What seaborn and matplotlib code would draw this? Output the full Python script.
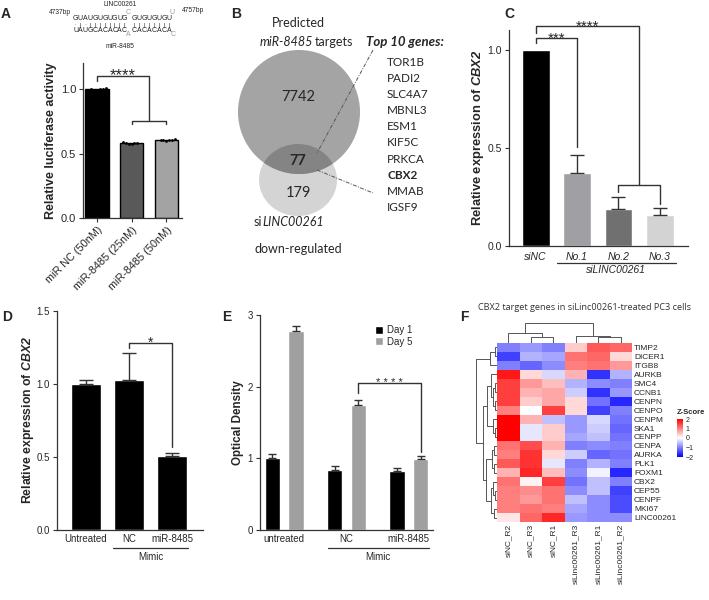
import numpy as np
import pandas as pd
import matplotlib
matplotlib.use('Agg')
import matplotlib.pyplot as plt
import seaborn as sns
from matplotlib.patches import Ellipse

# ---------------- data ----------------
# A: luciferase reporter (6 replicates per group)
luc_groups = ['miR NC (50nM)', 'miR-8485 (25nM)', 'miR-8485 (50nM)']
luc_nc = [0.996, 1.000, 1.003, 0.998, 1.001, 1.006]
luc_25 = [0.586, 0.580, 0.575, 0.578, 0.583, 0.590]
luc_50 = [0.600, 0.604, 0.602, 0.606, 0.603, 0.610]

# B: venn counts + top genes
venn_counts = [7742, 77, 179]
top_genes = ['TOR1B', 'PADI2', 'SLC4A7', 'MBNL3', 'ESM1', 'KIF5C', 'PRKCA', 'CBX2', 'MMAB', 'IGSF9']

# C: CBX2 after siLINC00261
c_groups = ['siNC', 'No.1', 'No.2', 'No.3']
c_mean = [1.0, 0.37, 0.186, 0.16]
c_err = [0.0, 0.093, 0.062, 0.035]

# D: CBX2 after mimic
d_groups = ['Untreated', 'NC', 'miR-8485']
d_mean = [1.0, 1.03, 0.507]
d_err = [0.03, 0.18, 0.02]

# E: optical density
e_groups = ['untreated', 'NC', 'miR-8485']
e_day1 = [1.0, 0.84, 0.83]
e_day5 = [2.78, 1.74, 0.99]
e_day1_err = [0.06, 0.06, 0.04]
e_day5_err = [0.06, 0.08, 0.04]

# F: heatmap z-scores
hm_genes = ['TIMP2', 'DICER1', 'ITGB8', 'AURKB', 'SMC4', 'CCNB1', 'CENPN', 'CENPO', 'CENPM', 'SKA1',
            'CENPP', 'CENPA', 'AURKA', 'PLK1', 'FOXM1', 'CBX2', 'CEP55', 'CENPF', 'MKI67', 'LINC00261']
hm_samples = ['siNC_R2', 'siNC_R3', 'siNC_R1', 'siLinc00261_R3', 'siLinc00261_R1', 'siLinc00261_R2']
hm_z = [
    [-1.0, -0.8, -1.0, 0.4, 1.3, 1.2],
    [-1.5, -0.6, -0.7, 1.1, 1.2, 0.3],
    [-1.0, -1.2, -0.9, 1.0, 1.1, 0.8],
    [1.8, 0.3, -0.3, 0.6, -1.6, -0.6],
    [1.5, 0.8, 0.5, -0.6, -0.9, -1.0],
    [1.5, 0.6, 0.7, -0.4, -1.6, -0.8],
    [1.5, 0.4, 0.7, 0.3, -1.1, -1.7],
    [1.0, 0.0, 1.5, 0.3, -1.5, -1.0],
    [2.2, 0.6, -0.5, -0.8, -0.3, -1.1],
    [2.2, -0.2, 0.4, -0.8, -0.4, -1.2],
    [2.2, -0.2, 0.4, -0.7, -0.5, -1.1],
    [1.1, 1.4, 0.6, -1.0, -0.9, -1.0],
    [1.0, 1.6, 0.3, -0.4, -1.2, -1.1],
    [1.3, 1.6, -0.2, -1.0, -0.6, -1.0],
    [0.6, 1.7, 0.5, -0.9, -0.1, -1.7],
    [1.1, 0.1, 1.5, -1.1, -0.5, -1.0],
    [1.0, 0.9, 1.1, -0.9, -0.5, -1.5],
    [1.0, 0.8, 1.1, -0.5, -0.9, -1.4],
    [1.0, 1.1, 1.0, -0.7, -0.9, -1.4],
    [0.2, 1.2, 1.7, -0.8, -0.9, -0.9],
]
# dendrograms as (left, right, height) merges, leaves are row/col indices
row_tree = (((0, 1, 0.1), 2, 0.31),
            (((3, ((4, 5, 0.1), (6, 7, 0.1), 0.2), 0.3), (8, (9, 10, 0.08), 0.2), 0.45),
             (((11, 12, 0.12), (13, 14, 0.15), 0.25),
              ((15, (16, 17, 0.1), 0.2), (18, 19, 0.15), 0.3), 0.5), 0.66),
            1.0)
col_tree = ((0, (1, 2, 0.32), 0.48), (3, (4, 5, 0.3), 0.37), 1.0)

# ---------------- style ----------------
sns.set_style('ticks')
plt.rcParams['font.family'] = ['Liberation Sans', 'DejaVu Sans']
plt.rcParams['mathtext.fontset'] = 'custom'
plt.rcParams['mathtext.rm'] = 'Liberation Sans'
plt.rcParams['mathtext.it'] = 'Liberation Sans:italic'
plt.rcParams['mathtext.bf'] = 'Liberation Sans:bold'
plt.rcParams['mathtext.bfit'] = 'Liberation Sans:italic:bold'

W, H = 709, 600
fig = plt.figure(figsize=(7.09, 6.0), dpi=100)


def px_axes(x0, y0, x1, y1):
    return fig.add_axes([x0 / W, 1 - y1 / H, (x1 - x0) / W, (y1 - y0) / H])


def ftext(x, y, s, **kw):
    kw.setdefault('ha', 'center')
    kw.setdefault('va', 'center')
    return fig.text(x / W, 1 - y / H, s, **kw)


def style_ax(ax, size=7):
    sns.despine(ax=ax)
    for s in ['left', 'bottom']:
        ax.spines[s].set_linewidth(0.9)
        ax.spines[s].set_color('#333333')
    ax.tick_params(labelsize=size, length=3, width=0.8, color='#333333', pad=2)
    ax.set_xlabel('')


def up_err(ax, xs, ys, errs, cap):
    ax.errorbar(xs, ys, yerr=[np.zeros(len(errs)), errs], fmt='none', ecolor='#333333',
                elinewidth=1, capsize=cap, capthick=1, zorder=3)


def bracket(ax, xs, ys, lw=1):
    ax.plot(xs, ys, color='#333333', lw=lw, clip_on=False, zorder=4)


def stars(ax, x, y, s, size):
    ax.annotate(s, xy=(x, y), xytext=(0, -0.3 * size), textcoords='offset points',
                ha='center', va='baseline', fontsize=size, annotation_clip=False)


# panel letters
for lab, x, y in [('A', 6, 14), ('B', 236, 14), ('C', 509, 14), ('D', 7, 317), ('E', 227, 317), ('F', 464, 317)]:
    ftext(x, y, lab, fontsize=10, fontweight='bold')

# ---------------- A ----------------
ax = px_axes(83, 63.5, 182, 218)
df_a = pd.DataFrame({'group': np.repeat(luc_groups, 6), 'val': luc_nc + luc_25 + luc_50})
sns.barplot(data=df_a, x='group', y='val', hue='group', palette=['#000000', '#595959', '#a3a3a3'],
            errorbar=None, width=0.67, edgecolor='black', linewidth=1, legend=False, ax=ax)
sns.swarmplot(data=df_a, x='group', y='val', color='black', size=2.0, ax=ax)
ax.set_ylim(0, 1.2)
ax.set_xlim(-0.4, 2.45)
ax.set_yticks([0, 0.5, 1.0])
ax.set_yticklabels(['0.0', '0.5', '1.0'])
style_ax(ax, 8)
ax.set_ylabel('Relative luciferase activity', fontsize=9, fontweight='bold', labelpad=3)
ax.set_xticks(range(3))
ax.set_xticklabels(luc_groups, rotation=45, ha='right', rotation_mode='anchor', fontsize=7.8)
bracket(ax, [0, 0, 1.5, 1.5], [1.065, 1.106, 1.106, 0.754])
bracket(ax, [1, 1, 2, 2], [0.73, 0.754, 0.754, 0.73])
stars(ax, 0.75, 1.106, '****', 12)

# RNA pairing sketch
step = 4.9
ftext(120, 4, 'LINC00261', fontsize=4.8)
ftext(60, 12, '4737bp', fontsize=4.8)
ftext(193, 11, '4757bp', fontsize=4.8)
ftext(120, 47, 'miR-8485', fontsize=4.8)
seq_rows = [('GUAUGUGUGUG', 75.5, 19), ('GUGUGUGU', 134.5, 19),
            ('\u00b7|\u00b7||||||||', 75.5, 25), ('||||||||', 134.5, 25),
            ('UAUGCACACAC', 75.5, 30), ('CACACACA', 134.5, 30)]
for s, x0, y in seq_rows:
    for i, ch in enumerate(s):
        ftext(x0 + i * step, y, ch, fontsize=5 if ch not in '|\u00b7' else 4, color='#222222')
for ch, x, y in [('C', 128, 12), ('U', 172, 12), ('A', 128, 35), ('C', 173, 35)]:
    ftext(x, y, ch, fontsize=5, color='#9a9a9a')

# ---------------- B ----------------
ax = px_axes(230, 0, 470, 300)
ax.set_xlim(230, 470)
ax.set_ylim(300, 0)
ax.axis('off')
big = Ellipse((299, 112), 122, 124, facecolor='#a4a4a4', edgecolor='none', zorder=1)
small = Ellipse((298, 180), 78, 72, facecolor='#d4d4d4', edgecolor='none', zorder=0)
lens = Ellipse((298, 180), 78, 72, facecolor='#848484', edgecolor='none', zorder=2)
ax.add_patch(small)
ax.add_patch(big)
ax.add_patch(lens)
lens.set_clip_path(big)
bfont = 'Lato'
ax.text(298, 97, f'{venn_counts[0]}', fontsize=10.5, ha='center', va='center', family=bfont, zorder=5)
ax.text(298, 161, f'{venn_counts[1]}', fontsize=10.5, ha='center', va='center', family=bfont, fontweight='bold', zorder=5)
ax.text(298, 193, f'{venn_counts[2]}', fontsize=10.5, ha='center', va='center', family=bfont, zorder=5)
ax.text(298, 23, 'Predicted', fontsize=9, ha='center', va='center', family=bfont)
ax.text(313, 42, 'miR-8485', fontsize=9, ha='right', va='center', family=bfont, style='italic')
ax.text(315, 42, 'targets', fontsize=9, ha='left', va='center', family=bfont)
ax.text(262, 222, 'si', fontsize=9, ha='right', va='center', family=bfont)
ax.text(262, 222, 'LINC00261', fontsize=9, ha='left', va='center', family=bfont, style='italic')
ax.text(298, 249, 'down-regulated', fontsize=9, ha='center', va='center', family=bfont)
ax.text(366, 42, 'Top 10 genes:', fontsize=9.5, ha='left', va='center', family=bfont,
        fontweight='bold', style='italic')
for i, g in enumerate(top_genes):
    ax.text(387, 62 + i * 16.2, g, fontsize=8.5, ha='left', va='center', family=bfont,
            fontweight='bold' if g == 'CBX2' else 'normal')
ax.plot([373, 317], [50, 153], color='#555555', lw=0.7, ls=(0, (4, 1.5, 1, 1.5)), zorder=6)
ax.plot([317, 373], [170, 193], color='#555555', lw=0.7, ls=(0, (4, 1.5, 1, 1.5)), zorder=6)

# ---------------- C ----------------
ax = px_axes(509, 30, 688, 246)
sns.barplot(x=c_groups, y=c_mean, hue=c_groups, palette=['#000000', '#a0a0a4', '#707070', '#d3d3d3'],
            width=0.67, legend=False, ax=ax)
up_err(ax, range(1, 4), c_mean[1:], c_err[1:], 5)
ax.set_ylim(0, 1.1)
ax.set_xlim(-0.645, 3.68)
ax.set_yticks([0, 0.5, 1.0])
ax.set_yticklabels(['0.0', '0.5', '1.0'])
style_ax(ax, 7.5)
ax.tick_params(axis='x', length=0, pad=4)
ax.set_xticks(range(4))
ax.set_xticklabels(c_groups, fontsize=7.5, style='italic')
ax.set_ylabel(r'Relative expression of $\mathbfit{CBX2}$', fontsize=9.3, fontweight='bold', labelpad=1)
bracket(ax, [0, 0, 1, 1], [1.035, 1.06, 1.06, 0.505])
stars(ax, 0.5, 1.06, '***', 11)
bracket(ax, [0, 0, 2.5, 2.5], [1.085, 1.12, 1.12, 0.31])
bracket(ax, [2, 2, 3, 3], [0.275, 0.31, 0.31, 0.215])
stars(ax, 1.25, 1.12, '****', 11)
tr = ax.get_xaxis_transform()
ax.plot([0.51, 3.4], [-0.079, -0.079], color='#333333', lw=0.9, transform=tr, clip_on=False)
ax.text(1.95, -0.112, 'siLINC00261', transform=tr, ha='center', va='center', fontsize=7.5, style='italic')

# ---------------- D ----------------
ax = px_axes(57, 311, 203, 530)
sns.barplot(x=d_groups, y=d_mean, color='black', width=0.69, ax=ax)
up_err(ax, range(3), d_mean, d_err, 5)
ax.set_ylim(0, 1.5)
ax.set_xlim(-0.66, 2.71)
ax.set_yticks([0, 0.5, 1.0, 1.5])
ax.set_yticklabels(['0.0', '0.5', '1.0', '1.5'])
style_ax(ax, 7)
ax.tick_params(axis='x', length=0, pad=3)
ax.set_ylabel(r'Relative expression of $\mathbfit{CBX2}$', fontsize=8.8, fontweight='bold', labelpad=0.5)
bracket(ax, [1, 1, 2, 2], [1.245, 1.283, 1.283, 0.57])
stars(ax, 1.5, 1.283, '*', 10)
tr = ax.get_xaxis_transform()
ax.plot([0.63, 2.36], [-0.082, -0.082], color='#333333', lw=0.9, transform=tr, clip_on=False)
ax.text(1.5, -0.123, 'Mimic', transform=tr, ha='center', va='center', fontsize=7)

# ---------------- E ----------------
ax = px_axes(260, 315, 433, 530)
df_e = pd.DataFrame({'group': e_groups * 2, 'day': ['Day 1'] * 3 + ['Day 5'] * 3, 'od': e_day1 + e_day5})
sns.barplot(data=df_e, x='group', y='od', hue='day', palette=['#000000', '#a0a0a0'],
            width=0.76, gap=0.34, errorbar=None, ax=ax)
bar_x = []
for cont, errs in zip(ax.containers, [e_day1_err, e_day5_err]):
    xs = [b.get_x() + b.get_width() / 2 for b in cont]
    ys = [b.get_height() for b in cont]
    up_err(ax, xs, ys, errs, 2.8)
    bar_x.append(xs)
ax.set_ylim(0, 3)
ax.set_xlim(-0.39, 2.39)
ax.set_yticks([0, 1, 2, 3])
style_ax(ax, 7)
ax.tick_params(axis='x', length=0, pad=3)
ax.set_ylabel('Optical Density', fontsize=8.4, fontweight='bold', labelpad=3)
handles, labels = ax.get_legend_handles_labels()
ax.legend(handles, labels, loc='upper left', bbox_to_anchor=(0.64, 0.97), frameon=False, fontsize=7,
          handlelength=0.9, handleheight=0.9, handletextpad=0.4, labelspacing=0.15, borderaxespad=0)
bracket(ax, [bar_x[1][1], bar_x[1][1], bar_x[1][2], bar_x[1][2]], [1.91, 2.05, 2.05, 1.09])
stars(ax, (bar_x[1][1] + bar_x[1][2]) / 2, 2.05, '* * * *', 8)
tr = ax.get_xaxis_transform()
ax.plot([0.7, 2.33], [-0.084, -0.084], color='#333333', lw=0.9, transform=tr, clip_on=False)
ax.text(1.5, -0.126, 'Mimic', transform=tr, ha='center', va='center', fontsize=7)

# ---------------- F ----------------
df_hm = pd.DataFrame(hm_z, index=hm_genes, columns=hm_samples)
ax = px_axes(497, 343, 632, 522)
cax = px_axes(677, 419, 683, 457)
sns.heatmap(df_hm, cmap='bwr', vmin=-2, vmax=2, ax=ax, cbar_ax=cax, xticklabels=True, yticklabels=True)
ax.yaxis.tick_right()
ax.tick_params(axis='both', length=0, pad=1.5)
ax.set_yticklabels(hm_genes, rotation=0, fontsize=6)
ax.set_xticklabels(hm_samples, rotation=90, fontsize=6)
ax.set_xlabel('')
ax.set_ylabel('')
cax.set_yticks([-2, -1, 0, 1, 2])
cax.set_yticklabels(['\u22122', '\u22121', '0', '1', '2'])
cax.tick_params(length=0, labelsize=5, pad=2)
for sp in cax.spines.values():
    sp.set_visible(False)
ftext(691, 412, 'Z-Score', fontsize=5.5, fontweight='bold')
ftext(585, 308, 'CBX2 target genes in siLinc00261-treated PC3 cells', fontsize=6.6, family='Open Sans',
      color='#333333')


def draw_tree(tax, node, horizontal):
    if isinstance(node, int):
        return node + 0.5, 0.0
    a, b, h = node
    pa, ha_ = draw_tree(tax, a, horizontal)
    pb, hb = draw_tree(tax, b, horizontal)
    hs = [ha_, h, h, hb]
    ps = [pa, pa, pb, pb]
    if horizontal:
        tax.plot(ps, hs, color='#555555', lw=0.7)
    else:
        tax.plot(hs, ps, color='#555555', lw=0.7)
    return (pa + pb) / 2, h


rax = px_axes(475, 343, 497, 522)
draw_tree(rax, row_tree, False)
rax.set_ylim(len(hm_genes), 0)
rax.set_xlim(1.03, 0)
rax.axis('off')
cdx = px_axes(497, 322, 632, 343)
draw_tree(cdx, col_tree, True)
cdx.set_xlim(0, len(hm_samples))
cdx.set_ylim(0, 1.05)
cdx.axis('off')

fig.savefig('out.png', dpi=100)
